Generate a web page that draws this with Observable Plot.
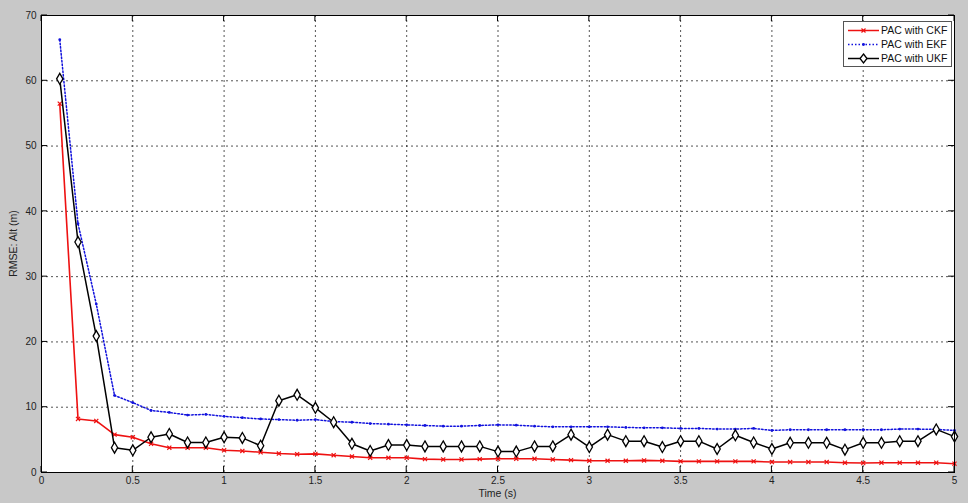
<!DOCTYPE html>
<html>
<head>
<meta charset="utf-8">
<script src="https://cdn.jsdelivr.net/npm/d3@7"></script>
<script src="https://cdn.jsdelivr.net/npm/@observablehq/plot@0.6"></script>
<style>
  html, body { margin: 0; padding: 0; background: #c8c8c8; }
  #wrap { position: relative; width: 968px; height: 503px; overflow: hidden; }
  #legend { position: absolute; left: 843px; top: 21px; width: 107px; height: 44px;
    background: #fff; border: 1px solid #555; font: 10.5px "Liberation Sans", Arial, sans-serif; color: #111; }
  #legend .row { position: absolute; left: 0; height: 14px; display: flex; align-items: center; }
  #legend svg { display: block; margin-left: 4px; }
  #legend span { margin-left: 2px; white-space: nowrap; }
</style>
</head>
<body>
<div id="wrap"><div id="chart"></div><div id="legend"></div></div>
<script>
const time = [0.1,0.2,0.3,0.4,0.5,0.6,0.7,0.8,0.9,1.0,
              1.1,1.2,1.3,1.4,1.5,1.6,1.7,1.8,1.9,2.0,
              2.1,2.2,2.3,2.4,2.5,2.6,2.7,2.8,2.9,3.0,
              3.1,3.2,3.3,3.4,3.5,3.6,3.7,3.8,3.9,4.0,
              4.1,4.2,4.3,4.4,4.5,4.6,4.7,4.8,4.9,5.0];
const ckf = [56.5,8.2,7.9,5.8,5.4,4.4,3.8,3.8,3.8,3.4,
             3.3,3.1,2.9,2.8,2.85,2.65,2.45,2.25,2.25,2.25,
             2.05,2.0,2.0,2.05,2.1,2.1,2.1,2.0,1.9,1.8,
             1.8,1.8,1.85,1.8,1.7,1.7,1.7,1.7,1.7,1.6,
             1.6,1.6,1.6,1.5,1.45,1.5,1.5,1.5,1.5,1.35];
const ekf = [66.3,38.1,25.8,11.8,10.7,9.5,9.2,8.8,8.9,8.6,
             8.4,8.2,8.1,8.0,8.1,7.8,7.7,7.5,7.4,7.3,
             7.2,7.1,7.1,7.2,7.3,7.25,7.1,7.0,7.0,7.0,
             7.0,6.9,6.85,6.85,6.75,6.75,6.65,6.65,6.75,6.45,
             6.55,6.55,6.55,6.55,6.55,6.55,6.65,6.65,6.6,6.45];
const ukf = [60.3,35.3,20.9,3.8,3.4,5.4,5.9,4.6,4.6,5.4,
             5.3,4.1,11.0,11.9,9.9,7.7,4.4,3.3,4.2,4.2,
             4.0,4.0,4.0,4.0,3.2,3.2,4.0,4.0,5.8,3.9,
             5.8,4.8,4.8,3.9,4.8,4.8,3.6,5.7,4.6,3.6,
             4.55,4.55,4.55,3.5,4.55,4.55,4.8,4.8,6.6,5.5];
const seriesNames = ["PAC with CKF", "PAC with EKF", "PAC with UKF"];
const xTicks = [0,0.5,1,1.5,2,2.5,3,3.5,4,4.5,5];
const yTicks = [0,10,20,30,40,50,60,70];
const xLabel = "Time (s)";
const yLabel = "RMSE: Alt (m)";

const dCKF = time.map((t, i) => ({t, v: ckf[i]}));
const dEKF = time.map((t, i) => ({t, v: ekf[i]}));
const dUKF = time.map((t, i) => ({t, v: ukf[i]}));

const fontFam = "'Liberation Sans', Arial, sans-serif";
const tickFmt = d => String(d);

const chart = Plot.plot({
  width: 968,
  height: 503,
  marginLeft: 41,
  marginRight: 14,
  marginTop: 15,
  marginBottom: 31,
  style: { background: "#c8c8c8", fontFamily: fontFam, fontSize: "10px", color: "#222", overflow: "visible" },
  x: { domain: [0, 5] },
  y: { domain: [0, 70] },
  marks: [
    Plot.frame({ fill: "white" }),
    Plot.gridX(xTicks, { stroke: "#000", strokeOpacity: 0.85, strokeDasharray: "2,3", strokeWidth: 0.8 }),
    Plot.gridY(yTicks, { stroke: "#000", strokeOpacity: 0.85, strokeDasharray: "2,3", strokeWidth: 0.8 }),
    Plot.axisX(xTicks, { anchor: "bottom", tickSize: 0, tickPadding: 4, tickFormat: tickFmt, label: null, fill: "#222" }),
    Plot.axisY(yTicks, { anchor: "left", tickSize: 0, tickPadding: 5, tickFormat: tickFmt, label: null, fill: "#222" }),
    Plot.line(dCKF, { x: "t", y: "v", stroke: "#ee1111", strokeWidth: 1.6 }),
    Plot.dot(dCKF, { x: "t", y: "v", symbol: "times", r: 2, stroke: "#ee1111", strokeWidth: 1.2 }),
    Plot.line(dEKF, { x: "t", y: "v", stroke: "#1111dd", strokeWidth: 1.5, strokeDasharray: "1.5,2" }),
    Plot.dot(dEKF, { x: "t", y: "v", r: 1.4, fill: "#1111dd", stroke: "none" }),
    Plot.line(dUKF, { x: "t", y: "v", stroke: "#000", strokeWidth: 1.5 }),
    Plot.dot(dUKF, { x: "t", y: "v", symbol: "diamond", r: 3.3, fill: "white", stroke: "#000", strokeWidth: 1.3 }),
    Plot.frame({ stroke: "#000", strokeWidth: 1 })
  ]
});
document.getElementById("chart").appendChild(chart);

// inward ticks on all four sides via the chart's scales
const sx = chart.scale("x"), sy = chart.scale("y");
const svgNS = "http://www.w3.org/2000/svg";
const g = document.createElementNS(svgNS, "g");
g.setAttribute("stroke", "#000");
g.setAttribute("stroke-width", "1");
const L = 6;
const x0 = sx.range[0], x1 = sx.range[1], y0 = sy.range[0], y1 = sy.range[1];
for (const t of xTicks) {
  const px = sx.apply(t);
  for (const [ya, yb] of [[y0, y0 - L], [y1, y1 + L]]) {
    const l = document.createElementNS(svgNS, "line");
    l.setAttribute("x1", px); l.setAttribute("x2", px);
    l.setAttribute("y1", ya); l.setAttribute("y2", yb);
    g.appendChild(l);
  }
}
for (const t of yTicks) {
  const py = sy.apply(t);
  for (const [xa, xb] of [[x0, x0 + L], [x1, x1 - L]]) {
    const l = document.createElementNS(svgNS, "line");
    l.setAttribute("y1", py); l.setAttribute("y2", py);
    l.setAttribute("x1", xa); l.setAttribute("x2", xb);
    g.appendChild(l);
  }
}
chart.appendChild(g);

// axis labels
const tx = document.createElementNS(svgNS, "text");
tx.setAttribute("x", (x0 + x1) / 2); tx.setAttribute("y", 497);
tx.setAttribute("text-anchor", "middle"); tx.setAttribute("fill", "#222");
tx.setAttribute("font-size", "10.5");
tx.textContent = xLabel;
chart.appendChild(tx);
const ty = document.createElementNS(svgNS, "text");
ty.setAttribute("transform", `translate(17,${(y0 + y1) / 2}) rotate(-90)`);
ty.setAttribute("text-anchor", "middle"); ty.setAttribute("fill", "#222");
ty.setAttribute("font-size", "10.5");
ty.textContent = yLabel;
chart.appendChild(ty);

// legend
const legend = document.getElementById("legend");
const styles = [
  { stroke: "#ee1111", dash: null, marker: "x" },
  { stroke: "#1111dd", dash: "1.5,2", marker: "dot" },
  { stroke: "#000", dash: null, marker: "diamond" }
];
seriesNames.forEach((name, i) => {
  const row = document.createElement("div");
  row.className = "row";
  row.style.top = (1 + i * 14) + "px";
  const s = styles[i];
  let m = "";
  if (s.marker === "x") m = `<path d="M13.5,5.5L17.5,9.5M17.5,5.5L13.5,9.5" stroke="${s.stroke}" stroke-width="1.2"/>`;
  if (s.marker === "dot") m = `<circle cx="15.5" cy="7.5" r="1.4" fill="${s.stroke}"/>`;
  if (s.marker === "diamond") m = `<path d="M15.5,3L19,7.5L15.5,12L12,7.5Z" fill="white" stroke="#000" stroke-width="1.3"/>`;
  row.innerHTML = `<svg width="31" height="14"><line x1="0" x2="31" y1="7.5" y2="7.5" stroke="${s.stroke}" stroke-width="1.5" ${s.dash ? `stroke-dasharray="${s.dash}"` : ""}/>${m}</svg><span>${name}</span>`;
  legend.appendChild(row);
});
</script>
</body>
</html>
